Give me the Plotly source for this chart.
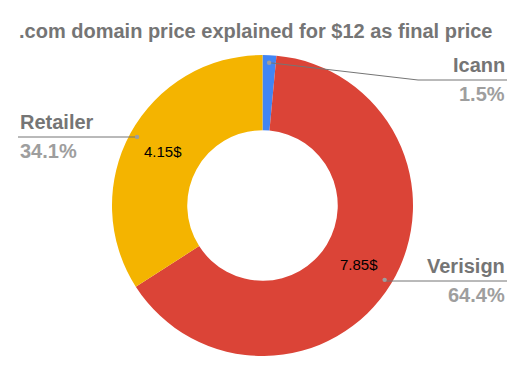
import numpy as np
import plotly.graph_objects as go

title = ".com domain price explained for $12 as final price"
labels = ["Icann", "Verisign", "Retailer"]
values = [0.18, 7.85, 4.15]
inside_text = ["", "7.85$", "4.15$"]
colors = ["#4285F4", "#DB4437", "#F4B400"]

W, H = 525, 375
cx, cy, R = 262.5, 205.5, 150.5
HOLE = 0.5
FONT = "Arial, Liberation Sans"

fig = go.Figure(go.Pie(
    labels=labels, values=values, textinfo="none",
    marker=dict(colors=colors, line=dict(color="white", width=0)),
    hole=HOLE, sort=False, direction="clockwise", rotation=0,
    domain=dict(x=[(cx - R) / W, (cx + R) / W], y=[1 - (cy + R) / H, 1 - (cy - R) / H]),
    showlegend=False, hoverinfo="label+value+percent",
))

def px(x):
    return x / W

def py(y):
    return 1 - y / H

vals = np.array(values)
frac = vals / vals.sum()
mid = np.cumsum(frac) - frac / 2
ang = mid * 2 * np.pi
dots = [(cx + 0.95 * R * np.sin(a), cy - 0.95 * R * np.cos(a)) for a in ang]
rmid = R * (1 + HOLE) / 2
inner = [(cx + rmid * np.sin(a), cy - rmid * np.cos(a)) for a in ang]
pct = [f"{100 * f:.1f}%" for f in frac]

place = {"Icann": (80, 507, "right"), "Verisign": (281, 507, "right"), "Retailer": (137, 18, "left")}
shapes = []
annotations = []
line_color = "#757575"
for i, lab in enumerate(labels):
    dx, dy = dots[i]
    ly, tx, side = place[lab]
    if abs(dy - ly) > 3:
        elbow = 418
        path = f"M {px(dx)},{py(dy)} L {px(elbow)},{py(ly)} L {px(tx)},{py(ly)}"
    else:
        path = f"M {px(dx)},{py(ly)} L {px(tx)},{py(ly)}"
    shapes.append(dict(type="path", xref="paper", yref="paper", path=path,
                       line=dict(color=line_color, width=1)))
    shapes.append(dict(type="circle", xref="paper", yref="paper",
                       x0=px(dx - 2.2), x1=px(dx + 2.2), y0=py(dy + 2.2), y1=py(dy - 2.2),
                       fillcolor="#9e9e9e", line=dict(width=0)))
    anchor = "right" if side == "right" else "left"
    annotations.append(dict(xref="paper", yref="paper", x=px(tx), y=py(ly - 2),
                            text=f"<b>{lab}</b>", showarrow=False, xanchor=anchor, yanchor="bottom",
                            font=dict(family=FONT, size=20, color="#757575")))
    annotations.append(dict(xref="paper", yref="paper", x=px(tx), y=py(ly + 1),
                            text=f"<b>{pct[i]}</b>", showarrow=False, xanchor=anchor, yanchor="top",
                            font=dict(family=FONT, size=20, color="#9e9e9e")))
    if inside_text[i]:
        ix, iy = inner[i]
        annotations.append(dict(xref="paper", yref="paper", x=px(ix), y=py(iy),
                                text=inside_text[i], showarrow=False, xanchor="center", yanchor="middle",
                                font=dict(family=FONT, size=15, color="#000000")))

annotations.append(dict(xref="paper", yref="paper", x=px(17), y=py(31), text=f"<b>{title}</b>",
                        showarrow=False, xanchor="left", yanchor="middle",
                        font=dict(family=FONT, size=20, color="#757575")))

fig.update_layout(width=W, height=H, margin=dict(l=0, r=0, t=0, b=0),
                  paper_bgcolor="white", plot_bgcolor="white",
                  shapes=shapes, annotations=annotations)
fig.write_html("out.html")
